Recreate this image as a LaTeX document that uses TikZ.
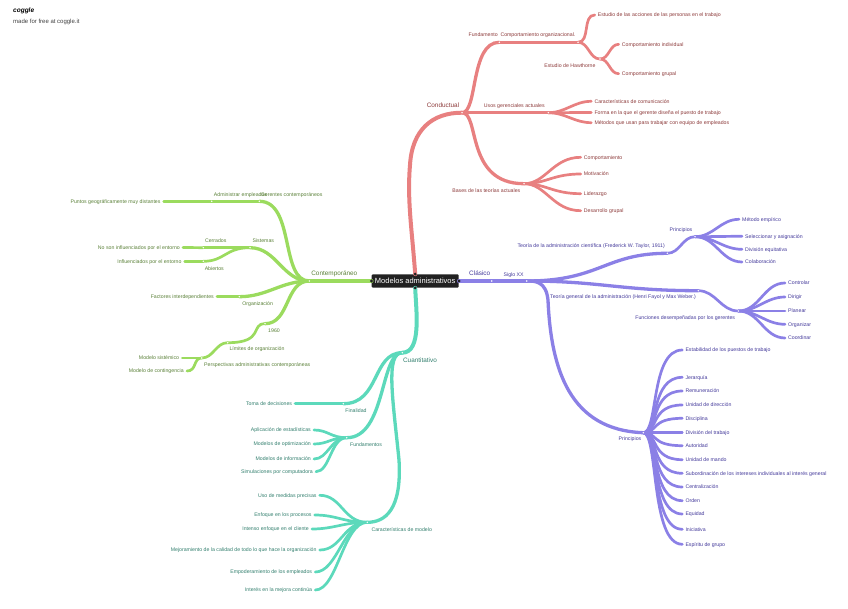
\documentclass[tikz,border=0pt]{standalone}
\usepackage{fontspec}
\setmainfont{Liberation Sans}

\definecolor{redbr}{HTML}{E88080}
\definecolor{redtx}{HTML}{8C3A3A}
\definecolor{grnbr}{HTML}{9BDB5E}
\definecolor{grntx}{HTML}{5A8038}
\definecolor{tealbr}{HTML}{5CD9BB}
\definecolor{tealtx}{HTML}{337F6E}
\definecolor{purbr}{HTML}{8B80E6}
\definecolor{purtx}{HTML}{43399A}

\tikzset{
	txt/.style = {inner xsep = 3 pt, inner ysep = 0 pt, text height = 4.8 pt, text depth = 1 pt, font = \fontsize{5.2}{6}\selectfont},
	main/.style = {txt, font = \fontsize{6.4}{8}\selectfont},
	wa/.style = {line width = 4 pt, line cap = round},
	wb/.style = {line width = 3.3 pt, line cap = round},
	wc/.style = {line width = 2.7 pt, line cap = round},
	jn/.style = {fill = white},
}

\begin{document}
\begin{tikzpicture}[x = 1 pt, y = -1 pt]
	\useasboundingbox (0, 0) rectangle (848, 609);

	\node[anchor = west, inner sep = 0 pt, font = \fontsize{6.5}{8}\selectfont\itshape\bfseries] (logo) at (13, 11) {coggle};
	\node[anchor = west, inner sep = 0 pt, font = \fontsize{6}{7}\selectfont, text = black!75] (free) at (13, 22) {made for free at coggle.it};

	\node[fill = black!87, text = white, rounded corners = 1 pt, minimum width = 87 pt, minimum height = 13.4 pt, inner sep = 0 pt, font = \fontsize{7.5}{10}\selectfont] (root) at (415.2, 281) {Modelos administrativos};

	% conductual
	\coordinate (cond) at (462, 112.7);
	\coordinate (compo) at (499.3, 42.3);
	\coordinate (compb) at (578, 42.3);
	\coordinate (hawt) at (600, 59);
	\coordinate (usos) at (548.3, 112.7);
	\coordinate (bases) at (524, 183.7);
	\node[main, text = redtx] (condtx) at (443, 105.3) {Conductual};
	\node[txt, text = redtx, anchor = east] (fundtx) at (501, 35) {Fundamento};
	\node[txt, text = redtx, anchor = west] (comptx) at (497.3, 35) {Comportamiento organizacional.};
	\node[txt, text = redtx, anchor = east] (hawttx) at (598.7, 65.7) {Estudio de Hawthorne};
	\node[txt, text = redtx] (usostx) at (514.3, 105.7) {Usos gerenciales actuales};
	\node[txt, text = redtx] (basestx) at (486.3, 191) {Bases de las teorías actuales};

	\draw[redbr, wa] (root.north) .. controls (412, 230) and (407, 200) .. (410, 165) .. controls (412, 130) and (432, 112.7) .. (cond);
	\draw[redbr, wb] (cond) .. controls (478, 112.7) and (470, 42.3) .. (compo);
	\draw[redbr, wb] (compo) -- (compb);
	\draw[redbr, wb] (cond) -- (usos);
	\draw[redbr, wb] (cond) .. controls (480, 112.7) and (465, 183.7) .. (bases);
	\draw[redbr, wc] (compb) to[out = 0, in = 180] (hawt);
	\node[txt, text = redtx, anchor = west] (accion) at (594.7, 15) {Estudio de las acciones de las personas en el trabajo};
	\draw[redbr, wc] (compb) to[out = 0, in = 180] (accion.west);
	\foreach \nm/\y/\lab in {indiv/44.3/Comportamiento individual, grupal/73.7/Comportamiento grupal}
	{
		\node[txt, text = redtx, anchor = west] (\nm) at (618.7, \y) {\lab};
		\draw[redbr, wc] (hawt) to[out = 0, in = 180] (\nm.west);
	}
	\foreach \nm/\y/\lab in {carcom/101.3/Características de comunicación, forma/112.5/Forma en la que el gerente diseña el puesto de trabajo, metod/122.7/Métodos que usan para trabajar con equipo de empleados}
	{
		\node[txt, text = redtx, anchor = west] (\nm) at (591.3, \y) {\lab};
		\draw[redbr, wc] (usos) to[out = 0, in = 180] (\nm.west);
	}
	\foreach \nm/\y/\lab in {bcomp/157.3/Comportamiento, motiv/174/Motivación, lider/193.7/Liderazgo, desar/210.7/Desarrollo grupal}
	{
		\node[txt, text = redtx, anchor = west] (\nm) at (580.7, \y) {\lab};
		\draw[redbr, wc] (bases) .. controls +(22, 0) and +(-28, 0) .. (\nm.west);
	}

	% contemporaneo
	\coordinate (cont) at (309.3, 281);
	\coordinate (gere) at (259.3, 201.3);
	\coordinate (admi) at (211.7, 201.3);
	\coordinate (sist) at (250, 247.7);
	\coordinate (cerr) at (203.3, 247.7);
	\coordinate (abie) at (203.3, 261.3);
	\coordinate (orga) at (239.3, 296.7);
	\coordinate (anio) at (265, 323.7);
	\coordinate (limi) at (227.7, 342.7);
	\coordinate (pers) at (201.7, 358);
	\node[main, text = grntx] (conttx) at (334.3, 274) {Contemporáneo};
	\node[txt, text = grntx, anchor = west] (admitx) at (210.7, 194.7) {Administrar empleados};
	\node[txt, text = grntx, anchor = west] (geretx) at (257.7, 194.7) {Gerentes contemporáneos};
	\node[txt, text = grntx] (sisttx) at (263.3, 241) {Sistemas};
	\node[txt, text = grntx] (cerrtx) at (215.7, 241) {Cerrados};
	\node[txt, text = grntx] (abietx) at (214.3, 268.3) {Abiertos};
	\node[txt, text = grntx] (orgatx) at (257.7, 303.7) {Organización};
	\node[txt, text = grntx] (aniotx) at (274, 330.3) {1960};
	\node[txt, text = grntx] (limitx) at (257, 349) {Límites de organización};
	\node[txt, text = grntx, anchor = west] (perstx) at (201, 365) {Perspectivas administrativas contemporáneas};
	\node[txt, text = grntx, anchor = east] (punto) at (163.7, 201.3) {Puntos geográficamente muy distantes};
	\node[txt, text = grntx, anchor = east] (noson) at (183, 247.5) {No son influenciados por el entorno};
	\node[txt, text = grntx, anchor = east] (influ) at (184.7, 261.3) {Influenciados por el entorno};
	\node[txt, text = grntx, anchor = east] (facto) at (217, 296.7) {Factores interdependientes};
	\node[txt, text = grntx, anchor = east] (msist) at (182.3, 358) {Modelo sistémico};
	\node[txt, text = grntx, anchor = east] (mcont) at (187, 371) {Modelo de contingencia};

	\draw[grnbr, wa] (root.west) -- (cont);
	\draw[grnbr, wb] (cont) .. controls (280, 281) and (295, 201.3) .. (gere);
	\draw[grnbr, wb] (cont) to[out = 180, in = 0] (sist);
	\draw[grnbr, wb] (cont) to[out = 180, in = 0] (orga);
	\draw[grnbr, wb] (cont) .. controls (285, 281) and (290, 323.7) .. (anio);
	\draw[grnbr, wc] (gere) -- (admi);
	\draw[grnbr, wc] (admi) -- (punto.east);
	\draw[grnbr, wc] (sist) -- (cerr);
	\draw[grnbr, wc] (cerr) -- (noson.east);
	\draw[grnbr, wc] (sist) .. controls (225, 247.7) and (225, 261.3) .. (abie);
	\draw[grnbr, wc] (abie) -- (influ.east);
	\draw[grnbr, wc] (orga) -- (facto.east);
	\draw[grnbr, wc] (anio) .. controls (250, 323.7) and (265, 342.7) .. (limi);
	\draw[grnbr, wc] (limi) to[out = 180, in = 0] (pers);
	\draw[grnbr, wc] (pers) -- (msist.east);
	\draw[grnbr, wc] (pers) .. controls (193, 358) and (197, 371) .. (mcont.east);

	% cuantitativo
	\coordinate (cuan) at (402.3, 352.7);
	\coordinate (fina) at (343.3, 403.7);
	\coordinate (fund) at (346.7, 437.7);
	\coordinate (cara) at (367.3, 522.3);
	\node[main, text = tealtx] (cuantx) at (420, 360.3) {Cuantitativo};
	\node[txt, text = tealtx] (finatx) at (356, 410.3) {Finalidad};
	\node[txt, text = tealtx] (fundatx) at (366, 444.7) {Fundamentos};
	\node[txt, text = tealtx] (caratx) at (401.7, 530) {Características de modelo};
	\node[txt, text = tealtx, anchor = east] (toma) at (295.3, 403.7) {Toma de decisiones};

	\draw[tealbr, wa] (root.south) .. controls (416, 310) and (422, 352.7) .. (cuan);
	\draw[tealbr, wb] (cuan) .. controls (372, 352.7) and (380, 403.7) .. (fina);
	\draw[tealbr, wb] (fina) -- (toma.east);
	\draw[tealbr, wb] (cuan) .. controls (380, 352.7) and (386, 437.7) .. (fund);
	\draw[tealbr, wb] (cuan) .. controls (385, 352.7) and (393, 400) .. (399, 460) .. controls (402, 510) and (385, 522.3) .. (cara);
	\foreach \nm/\y/\xx/\lab in {aplic/430/314/Aplicación de estadísticas, optim/444/314/Modelos de optimización, infor/459/314/Modelos de información, simul/471.7/316/Simulaciones por computadora}
	{
		\node[txt, text = tealtx, anchor = east] (\nm) at (\xx, \y) {\lab};
		\draw[tealbr, wc] (fund) .. controls +(-16, 0) and +(14, 0) .. (\nm.east);
	}
	\foreach \nm/\y/\xx/\lab in {medid/495.3/319.7/Uso de medidas precisas, enfoq/515/314.7/Enfoque en los procesos, inten/529/312/Intenso enfoque en el cliente, mejor/550/319.7/Mejoramiento de la calidad de todo lo que hace la organización, empod/572/315.3/Empoderamiento de los empleados, inter/590/315.3/Interés en la mejora continúa}
	{
		\node[txt, text = tealtx, anchor = east] (\nm) at (\xx, \y) {\lab};
		\draw[tealbr, wc] (cara) .. controls +(-24, 0) and +(22, 0) .. (\nm.east);
	}

	% clasico
	\coordinate (clas) at (491.7, 281);
	\coordinate (sigl) at (526.7, 281);
	\coordinate (tcie) at (667.3, 253.3);
	\coordinate (pria) at (695, 236.7);
	\coordinate (tgen) at (698.3, 290.7);
	\coordinate (func) at (738.3, 311);
	\coordinate (prib) at (643.3, 432.7);
	\node[main, text = purtx] (clastx) at (479.7, 274) {Clásico};
	\node[txt, text = purtx] (sigltx) at (513.7, 274.3) {Siglo XX};
	\node[txt, text = purtx, anchor = east] (tcietx) at (668, 246) {Teoría de la administración científica (Frederick W. Taylor, 1911)};
	\node[txt, text = purtx] (priatx) at (681, 230) {Principios};
	\node[txt, text = purtx, anchor = east] (tgentx) at (699, 297) {Teoría general de la administración (Henri Fayol y Max Weber.)};
	\node[txt, text = purtx, anchor = east] (functx) at (738.3, 317.7) {Funciones desempeñadas por los gerentes};
	\node[txt, text = purtx] (pribtx) at (630, 439) {Principios};

	\draw[purbr, wa] (root.east) -- (clas);
	\draw[purbr, wa] (clas) -- (sigl);
	\draw[purbr, wb] (sigl) .. controls (600, 281) and (605, 253.3) .. (tcie);
	\draw[purbr, wb] (sigl) .. controls (600, 281) and (620, 290.7) .. (tgen);
	\draw[purbr, wb] (sigl) .. controls (535, 281) and (546, 281) .. (548, 300) .. controls (551, 370) and (570, 430) .. (prib);
	\draw[purbr, wc] (tcie) to[out = 0, in = 180] (pria);
	\draw[purbr, wc] (tgen) to[out = 0, in = 180] (func);
	\foreach \nm/\y/\xx/\lab in {empir/219.3/739/Método empírico, selec/236.3/742/Seleccionar y asignación, divis/249.3/742/División equitativa, colab/262/742/Colaboración}
	{
		\node[txt, text = purtx, anchor = west] (\nm) at (\xx, \y) {\lab};
		\draw[purbr, wc] (pria) to[out = 0, in = 180] (\nm.west);
	}
	\foreach \nm/\y/\lab in {contr/283/Controlar, dirig/297/Dirigir, plane/311/Planear, organ/324.3/Organizar, coord/338/Coordinar}
	{
		\node[txt, text = purtx, anchor = west] (\nm) at (785, \y) {\lab};
		\draw[purbr, wc] (func) to[out = 0, in = 180] (\nm.west);
	}
	\foreach \nm/\y/\lab in {estab/350/Estabilidad de los puestos de trabajo, jerar/377.3/Jerarquía, remun/391/Remuneración, unidi/405/Unidad de dirección, disci/418.3/Disciplina, divtr/432.7/División del trabajo, autor/445.7/Autoridad, unima/459.7/Unidad de mando, subor/473.3/Subordinación de los intereses individuales al interés general, centr/487/Centralización, orden/500.7/Orden, equid/514/Equidad, inici/529.3/Iniciativa, espir/544.3/Espíritu de grupo}
	{
		\node[txt, text = purtx, anchor = west] (\nm) at (682.3, \y) {\lab};
		\draw[purbr, wc] (prib) .. controls +(15, 0) and +(-32, 0) .. (\nm.west);
	}

	% junction marks
	\foreach \j in {cond, compo, compb, hawt, usos, bases, cont, gere, admi, sist, cerr, abie, orga, anio, limi, pers, cuan, fina, fund, cara, clas, sigl, tcie, pria, tgen, func, prib}
	\fill[jn] (\j) circle (0.8 pt);
	\foreach \a in {north, south, east, west}
	\fill[black!87] (root.\a) circle (1.6 pt);
\end{tikzpicture}
\end{document}
